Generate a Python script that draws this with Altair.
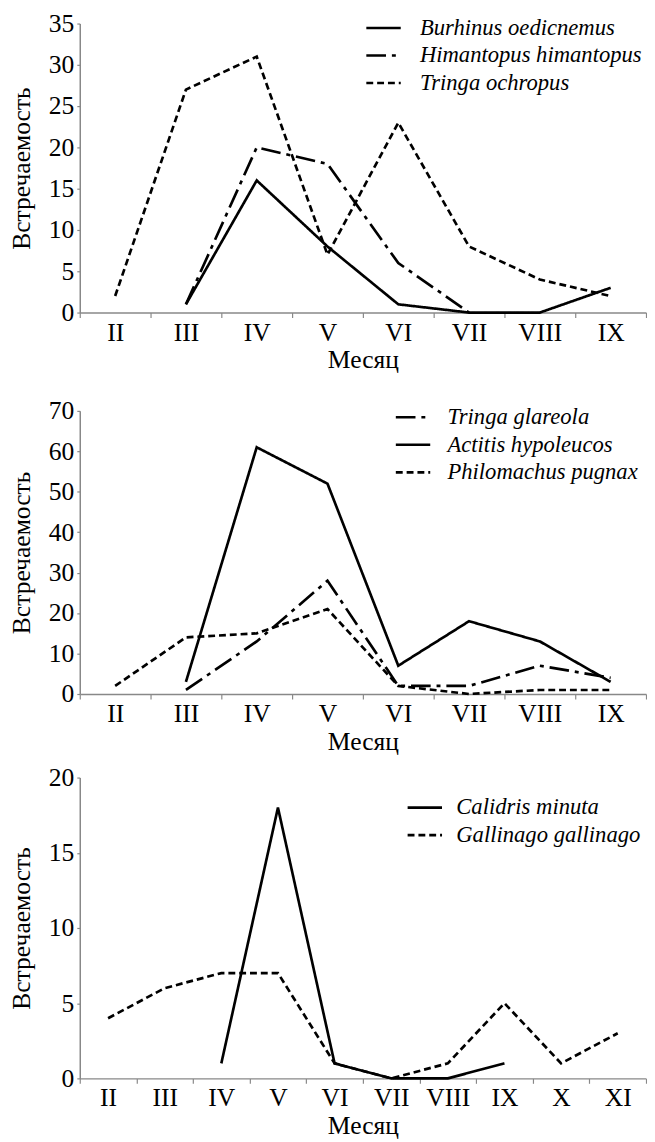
import altair as alt
import pandas as pd

# ---- data ----
months1 = ["II", "III", "IV", "V", "VI", "VII", "VIII", "IX"]
species1 = ["Burhinus oedicnemus", "Himantopus himantopus", "Tringa ochropus"]
burhinus = [None, 1, 16, 8, 1, 0, 0, 3]
himantopus = [None, 1, 20, 18, 6, 0, None, None]
tringa_ochropus = [2, 27, 31, 7, 23, 8, 4, 2]

months2 = ["II", "III", "IV", "V", "VI", "VII", "VIII", "IX"]
species2 = ["Tringa glareola", "Actitis hypoleucos", "Philomachus pugnax"]
tringa_glareola = [None, 1, 13, 28, 2, 2, 7, 4]
actitis = [None, 3, 61, 52, 7, 18, 13, 3]
philomachus = [2, 14, 15, 21, 2, 0, 1, 1]

months3 = ["II", "III", "IV", "V", "VI", "VII", "VIII", "IX", "X", "XI"]
species3 = ["Calidris minuta", "Gallinago gallinago"]
calidris = [None, None, 1, 18, 1, 0, 0, 1, None, None]
gallinago = [4, 6, 7, 7, 1, 0, 1, 5, 1, 3]

SOLID = [1, 0]
LONGDOT = [20, 6, 4, 6]
SHORT = [7, 4]

FONT = "Liberation Serif, Times New Roman, DejaVu Serif, serif"


def long_df(months, names, series):
    rows = []
    for name, vals in zip(names, series):
        for m, v in zip(months, vals):
            if v is not None:
                rows.append({"month": m, "species": name, "value": v})
    return pd.DataFrame(rows)


def panel(months, names, series, dashes, ymax, ystep, height, lx, ly, loff):
    df = long_df(months, names, series)
    return alt.Chart(df).mark_line(color="black", strokeWidth=2.7, strokeCap="butt").encode(
        x=alt.X("month:N", sort=months,
                scale=alt.Scale(type="band", domain=months, paddingInner=0, paddingOuter=0),
                axis=alt.Axis(title="Месяц", labelAngle=0, tickBand="extent")),
        y=alt.Y("value:Q", scale=alt.Scale(domain=[0, ymax], nice=False),
                axis=alt.Axis(title="Встречаемость", values=list(range(0, ymax + 1, ystep)))),
        strokeDash=alt.StrokeDash("species:N",
                                  scale=alt.Scale(domain=names, range=dashes),
                                  legend=alt.Legend(title=None, orient="none", legendX=lx, legendY=ly,
                                                    symbolType="M-1.4,0L1.4,0", symbolSize=625,
                                                    symbolStrokeWidth=2.7, symbolStrokeColor="black",
                                                    labelFont=FONT, labelFontSize=23,
                                                    labelFontStyle="italic", labelColor="black",
                                                    labelLimit=400,
                                                    labelOffset=loff, rowPadding=2, padding=0)),
        detail="species:N",
    ).properties(width=576, height=height)


p1 = panel(months1, species1, [burhinus, himantopus, tringa_ochropus],
           [SOLID, LONGDOT, SHORT], 35, 5, 294, 295, -9.5, 23)
p2 = panel(months2, species2, [tringa_glareola, actitis, philomachus],
           [LONGDOT, SOLID, SHORT], 70, 10, 288, 325, -7.5, 21)
p3 = panel(months3, species3, [calidris, gallinago],
           [SOLID, SHORT], 20, 5, 306, 337, 16.5, 18)

top = alt.vconcat(p1, p2, spacing=26).resolve_scale(
    strokeDash="independent").resolve_legend(strokeDash="independent")

chart = alt.vconcat(top, p3, spacing=11).resolve_scale(
    strokeDash="independent"
).resolve_legend(strokeDash="independent").configure_view(stroke=None).configure_axis(
    labelFont=FONT, labelFontSize=26, labelColor="black",
    titleFont=FONT, titleFontSize=26, titleFontWeight="normal", titleColor="black",
    domainColor="#888888", domainWidth=1.5, tickColor="#888888", tickWidth=1.2,
    grid=False,
).configure_axisX(tickSize=5, labelPadding=2, titlePadding=2).configure_axisY(
    tickSize=3, labelPadding=3, titlePadding=14
).properties(padding={"left": 1, "top": -7, "right": 0, "bottom": 0})

chart.save("out.html", embed_options={"renderer": "svg", "actions": False})
